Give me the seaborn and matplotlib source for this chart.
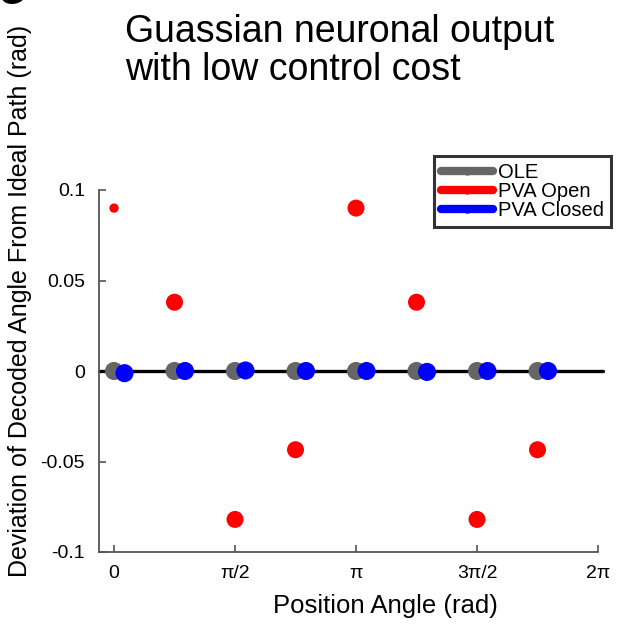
import numpy as np
import pandas as pd
import matplotlib
matplotlib.use("Agg")
import matplotlib.pyplot as plt
from matplotlib.lines import Line2D
import seaborn as sns

# ---- data ----
positions = [0, np.pi/4, np.pi/2, 3*np.pi/4, np.pi, 5*np.pi/4, 3*np.pi/2, 7*np.pi/4]
ole_dev = [0.0, 0.0, 0.0, 0.0, 0.0, 0.0, 0.0, 0.0]
pva_open_dev = [0.090, 0.038, -0.082, -0.0435, 0.090, 0.038, -0.082, -0.0435]
closed_offset = 0.136
pva_closed_dev = [-0.0012, 0.0, 0.0003, 0.0, 0.0, -0.0005, 0.0, 0.0]
series_names = ["OLE", "PVA Open", "PVA Closed"]
xtick_vals = [0, np.pi/2, np.pi, 3*np.pi/2, 2*np.pi]
xtick_labels = ["0", "π/2", "π", "3π/2", "2π"]
ytick_vals = [-0.1, -0.05, 0, 0.05, 0.1]
ytick_labels = ["-0.1", "-0.05", "0", "0.05", "0.1"]

sns.set_style("ticks")
plt.rcParams['font.family'] = ['Liberation Sans', 'DejaVu Sans']
plt.rcParams['text.color'] = 'black'
plt.rcParams['axes.labelcolor'] = 'black'

fig = plt.figure(figsize=(6.19, 6.24), dpi=100)
ax = fig.add_axes([99/619, 1-552/624, (598-99)/619, (552-190)/624])

ole_df = pd.DataFrame({"x": positions, "y": ole_dev})
open_df = pd.DataFrame({"x": positions, "y": pva_open_dev})
closed_df = pd.DataFrame({"x": [p + closed_offset for p in positions], "y": pva_closed_dev})

# zero reference line
ax.plot([-0.2, 6.35], [0, 0], color="black", lw=2.4, zorder=1, clip_on=False)

sizes_open = [45] + [150] * 7
sns.scatterplot(data=ole_df, x="x", y="y", ax=ax, color="#666666", s=170,
                edgecolor="none", zorder=3, clip_on=False, legend=False)
sns.scatterplot(data=open_df, x="x", y="y", ax=ax, color="#ff0000",
                size=sizes_open, sizes=(45, 150), edgecolor="none", zorder=4,
                clip_on=False, legend=False)
sns.scatterplot(data=closed_df, x="x", y="y", ax=ax, color="#0000ff", s=170,
                edgecolor="none", zorder=5, clip_on=False, legend=False)

ax.set_xlim(-0.195, 2*np.pi)
ax.set_ylim(-0.1, 0.1)
ax.set_xticks(xtick_vals)
ax.set_xticklabels(xtick_labels)
ax.set_yticks(ytick_vals)
ax.set_yticklabels(ytick_labels)
ax.tick_params(direction="in", length=5, width=1.1, color="#444444",
               labelsize=14, labelcolor="black")
ax.tick_params(axis="x", pad=9)
ax.tick_params(axis="y", pad=10)
for side in ["top", "right"]:
    ax.spines[side].set_visible(False)
for side in ["left", "bottom"]:
    ax.spines[side].set_color("#555555")
    ax.spines[side].set_linewidth(1.3)

ax.set_xlabel("")
ax.set_ylabel("")
fig.text(385/619, 1-606/624, "Position Angle (rad)", ha="center", va="center",
         fontsize=18.5)
fig.text(20/619, 1-301/624, "Deviation of Decoded Angle From Ideal Path (rad)",
         rotation=90, ha="center", va="center", fontsize=18)

fig.text(125/619, 1-42/624, "Guassian neuronal output", fontsize=27,
         ha="left", va="baseline")
fig.text(125/619, 1-80/624, "with low control cost", fontsize=27,
         ha="left", va="baseline")
fig.text(-0.002, 1-4/624, "G", fontsize=24, fontweight="bold",
         ha="left", va="baseline")

colors = ["#666666", "#ff0000", "#0000ff"]
handles = [Line2D([0], [0], color=c, lw=6, marker="o", markersize=5,
                  markerfacecolor=c, markeredgecolor=c) for c in colors]
leg = fig.legend(handles, series_names, loc="upper left",
                 bbox_to_anchor=(434/619, 1-156/624), frameon=True,
                 fontsize=14.5, handlelength=2.6, handletextpad=0.25,
                 labelspacing=0.0, borderpad=0.35, borderaxespad=0,
                 fancybox=False)
leg.get_frame().set_edgecolor("black")
leg.get_frame().set_linewidth(2.2)

fig.savefig("out.png", dpi=100)
